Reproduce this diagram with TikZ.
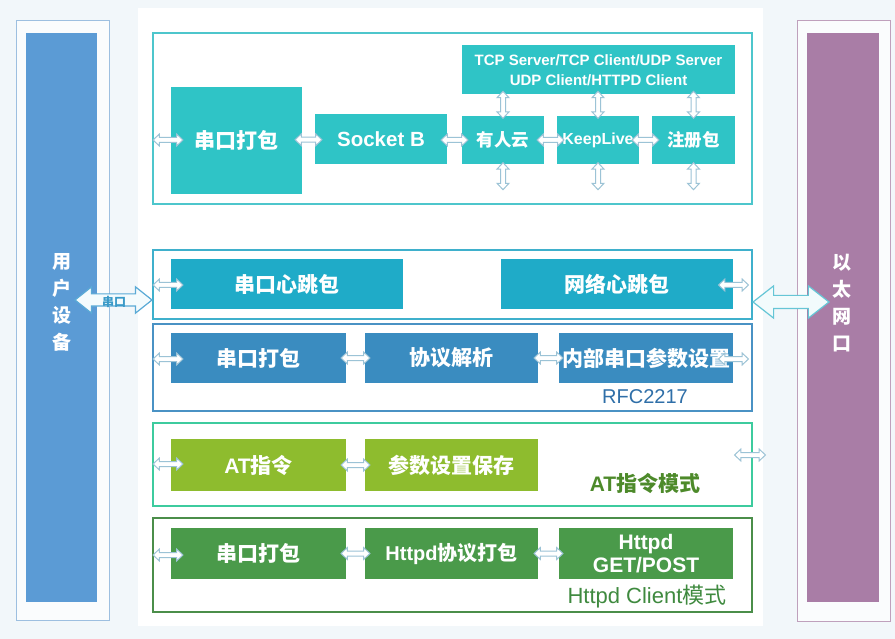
\documentclass[tikz,border=0pt]{standalone}
\usepackage{fontspec}
\setmainfont{Liberation Sans}
\newfontfamily\cjk{Noto Sans CJK SC}
\usetikzlibrary{shapes.arrows,calc}
\newcommand\zh[1]{{\cjk #1}}
\definecolor{bgc}{HTML}{F2F7FA}
\definecolor{lfr}{HTML}{9DBFE0}
\definecolor{lbar}{HTML}{5B9BD5}
\definecolor{rfr}{HTML}{BFA0BC}
\definecolor{rbar}{HTML}{A97DA6}
\definecolor{g1b}{HTML}{4DC6CC}
\definecolor{g1f}{HTML}{2FC4C6}
\definecolor{g2b}{HTML}{3FB0CC}
\definecolor{g2f}{HTML}{1FABC8}
\definecolor{g3b}{HTML}{4A92C4}
\definecolor{g3f}{HTML}{3A8CC0}
\definecolor{g4b}{HTML}{3DCB9E}
\definecolor{g4f}{HTML}{8EBC2E}
\definecolor{g5b}{HTML}{4B8E4A}
\definecolor{g5f}{HTML}{4A9A4A}
\definecolor{arrc}{HTML}{9CC3D6}
\definecolor{rfct}{HTML}{2F6FA8}
\definecolor{att}{HTML}{4D8A2A}
\definecolor{htt}{HTML}{3F8A3F}
\definecolor{uab}{HTML}{5AAAD6}
\definecolor{uaf}{HTML}{F4FBFD}
\definecolor{ual}{HTML}{3A9AC8}
\definecolor{eab}{HTML}{66C6D6}
\definecolor{eaf}{HTML}{F2FBFC}
\begin{document}
\begin{tikzpicture}[x=1pt,y=-1pt,
  box/.style={inner sep=0pt, align=center, text=white, font=\fontsize{21}{23}\selectfont\bfseries},
  grp/.style={draw=#1, line width=1.4pt, fill=white, inner sep=0pt, minimum width=599pt},
  sarr/.style={double arrow, draw=arrc, fill=white, line width=1pt, minimum height=27pt,
    inner sep=2pt, double arrow head extend=3.5pt, double arrow tip angle=86},
  sarrv/.style={sarr, shape border rotate=90},
  side/.style={text=white, align=center, font=\fontsize{19}{27}\selectfont\bfseries\cjk},
]
\useasboundingbox (0,0) rectangle (895,639);
\fill[bgc] (0,0) rectangle (895,639);
\fill[white] (138,8) rectangle (763,626);

% side devices
\node[draw=lfr, line width=1pt, fill=white!60!bgc, minimum width=93pt, minimum height=599pt, inner sep=0pt] (lframe) at (62.5,320.5) {};
\node[fill=lbar, minimum width=71pt, minimum height=569pt, inner sep=0pt] (user) at (61.5,317.5) {};
\node[side] (userl) at (62,302) {用\\户\\设\\备};
\node[draw=rfr, line width=1pt, fill=white!60!bgc, minimum width=93pt, minimum height=600pt, inner sep=0pt] (rframe) at (843.5,321) {};
\node[fill=rbar, minimum width=72pt, minimum height=569pt, inner sep=0pt] (eth) at (843,317.5) {};
\node[side] (ethl) at (842,303) {以\\太\\网\\口};

% group 1
\node[grp=g1b, minimum height=171pt] (g1) at (452.5,118.5) {};
\node[box, fill=g1f, minimum width=131pt, minimum height=107pt] (p1) at (236.5,140.5) {\zh{串口打包}};
\node[box, fill=g1f, minimum width=132pt, minimum height=50pt, font=\fontsize{20.5}{23}\selectfont\bfseries] (sock) at (381,139) {Socket B};
\node[box, fill=g1f, minimum width=273pt, minimum height=49pt, font=\fontsize{15}{20.5}\selectfont\bfseries] (tcp) at (598.5,70) {TCP Server/TCP Client/UDP Server\\UDP Client/HTTPD Client};
\node[box, fill=g1f, minimum width=82pt, minimum height=48pt, font=\fontsize{17.5}{20}\selectfont\bfseries] (yr) at (503,140) {\zh{有人云}};
\node[box, fill=g1f, minimum width=82pt, minimum height=48pt, font=\fontsize{16}{20}\selectfont\bfseries] (kl) at (598,140) {KeepLive};
\node[box, fill=g1f, minimum width=83pt, minimum height=48pt, font=\fontsize{17.5}{20}\selectfont\bfseries] (zc) at (693.5,140) {\zh{注册包}};

\node[sarr, minimum height=30pt] (a11) at (168,140) {};
\node[sarr] (a12) at ($(p1.east)!0.5!(sock.west)$) {};
\node[sarr] (a13) at ($(sock.east |- yr.west)!0.5!(yr.west)$) {};
\node[sarr] (a14) at ($(yr.east)!0.5!(kl.west)$) {};
\node[sarr] (a15) at ($(kl.east)!0.5!(zc.west)$) {};
\foreach \b in {yr,kl,zc}{
  \node[sarrv] (up\b) at ($(\b.north)+(0,-11)$) {};
  \node[sarrv] (dn\b) at ($(\b.south)+(0,12)$) {};
}

% group 2
\node[grp=g2b, minimum height=69pt] (g2) at (452.5,284.5) {};
\node[box, fill=g2f, minimum width=232pt, minimum height=50pt] (hb1) at (287,284) {\zh{串口心跳包}};
\node[box, fill=g2f, minimum width=232pt, minimum height=50pt] (hb2) at (617,284) {\zh{网络心跳包}};
\node[sarr, minimum height=30pt] (a21) at (168,285) {};
\node[sarr, minimum height=30pt] (a22) at (733.5,285) {};

% group 3
\node[grp=g3b, minimum height=87pt] (g3) at (452.5,367.5) {};
\node[box, fill=g3f, minimum width=175pt, minimum height=50pt] (r1) at (258.5,358) {\zh{串口打包}};
\node[box, fill=g3f, minimum width=173pt, minimum height=50pt] (r2) at (451.5,358) {\zh{协议解析}};
\node[box, fill=g3f, minimum width=174pt, minimum height=50pt] (r3) at (646,358) {\zh{内部串口参数设置}};
\node[text=rfct, font=\fontsize{20}{22}\selectfont, inner sep=0pt] (rfc) at (645,397) {RFC2217};
\node[sarr, minimum height=30pt] (a31) at (168,359) {};
\node[sarr, minimum height=29pt] (a32) at ($(r1.east)!0.5!(r2.west)$) {};
\node[sarr, minimum height=29pt] (a33) at ($(r2.east)!0.5!(r3.west)$) {};
\node[sarr, minimum height=30pt] (a34) at (733.5,359) {};

% group 4
\node[grp=g4b, minimum height=83pt] (g4) at (452.5,464.5) {};
\node[box, fill=g4f, minimum width=175pt, minimum height=52pt] (at1) at (258.5,465) {AT\zh{指令}};
\node[box, fill=g4f, minimum width=173pt, minimum height=52pt] (at2) at (451.5,465) {\zh{参数设置保存}};
\node[text=att, font=\fontsize{21}{23}\selectfont\bfseries, inner sep=0pt] (atl) at (645,483) {AT\zh{指令模式}};
\node[sarr, minimum height=30pt] (a41) at (168,464) {};
\node[sarr, minimum height=29pt] (a42) at ($(at1.east)!0.5!(at2.west)$) {};
\node[sarr, minimum height=31pt] (a43) at (750,455) {};

% group 5
\node[grp=g5b, minimum height=94pt] (g5) at (452.5,565) {};
\node[box, fill=g5f, minimum width=175pt, minimum height=51pt] (h1) at (258.5,553.5) {\zh{串口打包}};
\node[box, fill=g5f, minimum width=173pt, minimum height=51pt, font=\fontsize{20}{23}\selectfont\bfseries] (h2) at (451.5,553.5) {Httpd\zh{协议打包}};
\node[box, fill=g5f, minimum width=174pt, minimum height=51pt, font=\fontsize{21}{23}\selectfont\bfseries] (h3) at (646,553.5) {Httpd\\GET/POST};
\node[text=htt, font=\fontsize{22}{24}\selectfont, inner sep=0pt] (hcl) at (647,597) {Httpd Client\zh{模式}};
\node[sarr, minimum height=30pt] (a51) at (168,555) {};
\node[sarr, minimum height=29pt] (a52) at ($(h1.east)!0.5!(h2.west)$) {};
\node[sarr, minimum height=29pt] (a53) at ($(h2.east)!0.5!(h3.west)$) {};

% big arrows
\node[double arrow, draw=uab, fill=uaf, line width=1.2pt,
  minimum height=77pt, inner sep=5.5pt, double arrow head extend=7pt, double arrow tip angle=77] (ua) at (113.5,300) {};
\node[text=ual, font=\fontsize{12}{14}\selectfont\bfseries\cjk, inner sep=0pt] (uatext) at (114,302) {串口};
\node[double arrow, draw=eab, fill=eaf, line width=1.2pt,
  minimum height=76pt, inner sep=6pt, double arrow head extend=9.5pt, double arrow tip angle=76] (ea) at (791,302) {};
\end{tikzpicture}
\end{document}
